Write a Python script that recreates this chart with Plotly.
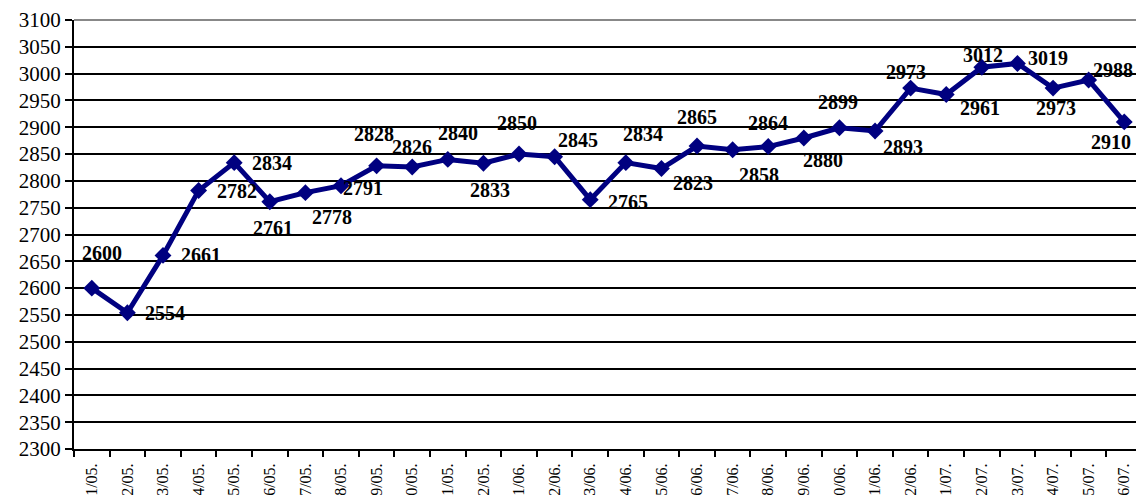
import plotly.graph_objects as go

categories = [
    "01/05.", "02/05.", "03/05.", "04/05.", "05/05.", "06/05.", "07/05.", "08/05.",
    "09/05.", "10/05.", "11/05.", "12/05.",
    "01/06.", "02/06.", "03/06.", "04/06.", "05/06.", "06/06.", "07/06.", "08/06.",
    "09/06.", "10/06.", "11/06.", "12/06.",
    "01/07.", "02/07.", "03/07.", "04/07.", "05/07.", "06/07.",
]
values = [
    2600, 2554, 2661, 2782, 2834, 2761, 2778, 2791, 2828, 2826, 2840, 2833,
    2850, 2845, 2765, 2834, 2823, 2865, 2858, 2864, 2880, 2899, 2893, 2973,
    2961, 3012, 3019, 2973, 2988, 2910,
]
y_ticks = list(range(2300, 3101, 50))

# pixel offsets of each data label relative to its point (style only)
label_dx = [10, 38, 38, 38, 38, 3, 27, 22, -3, 0, 10, 7, -2, 23, 38, 17, 32, 0,
            26, 0, 19, -1, 28, -5, 34, 1, 31, 3, 24, -13]
label_dy = [-35, 0, 0, 0, 0, 26, 24, 2, -32, -20, -26, 27, -31, -17, 2, -29, 14, -29,
            25, -24, 22, -26, 16, -16, 13, -12, -5, 20, -10, 20]

navy = "#000080"
fig = go.Figure()
fig.add_trace(go.Scatter(
    x=categories, y=values, mode="lines+markers",
    line=dict(color=navy, width=5),
    marker=dict(symbol="diamond", size=13, color=navy),
    showlegend=False, cliponaxis=False,
))

for c, v, dx, dy in zip(categories, values, label_dx, label_dy):
    fig.add_annotation(
        x=c, y=v, text=f"<b>{v}</b>", showarrow=False,
        xshift=dx, yshift=-dy,
        font=dict(family="Liberation Serif", size=20, color="black"),
    )

fig.add_shape(type="line", xref="paper", yref="paper", x0=0, x1=1, y0=1, y1=1,
              line=dict(color="#888888", width=2), layer="above")

fig.update_layout(
    width=1136, height=495,
    margin=dict(l=74, r=0, t=20, b=46),
    paper_bgcolor="white", plot_bgcolor="white",
    font=dict(family="Liberation Serif", color="black"),
    xaxis=dict(
        type="category", range=[-0.5, 29.33], automargin=False,
        showgrid=False, showline=True, linecolor="black", linewidth=2,
        ticks="outside", tickson="boundaries", ticklen=6, tickwidth=2, tickcolor="black",
        tickangle=-90, tickfont=dict(size=16, family="Liberation Serif"),
        ticklabelstandoff=6,
        zeroline=False,
    ),
    yaxis=dict(
        range=[2300, 3100], tickvals=y_ticks, automargin=False,
        showgrid=True, gridcolor="black", gridwidth=2,
        showline=True, linecolor="black", linewidth=2,
        ticks="outside", ticklen=7, tickwidth=2, tickcolor="black",
        tickfont=dict(size=21, family="Liberation Serif"),
        zeroline=False,
    ),
)

fig.write_html(
    "out.html",
    config={"displayModeBar": False},
    post_script="document.body.style.margin='0';document.body.style.overflow='hidden';",
)
